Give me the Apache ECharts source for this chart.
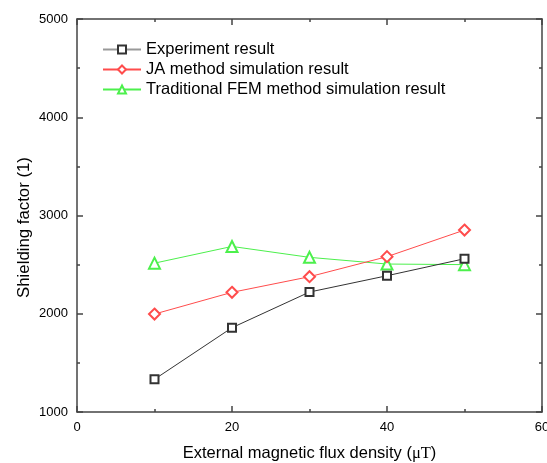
<!DOCTYPE html>
<html><head><meta charset="utf-8">
<script src="https://cdn.jsdelivr.net/npm/echarts@6/dist/echarts.min.js"></script>
<style>html,body{margin:0;padding:0;background:#fff}#c{width:547px;height:463px}</style>
</head><body><div id="c"></div>
<script>
const xValues = [10, 20, 30, 40, 50];
const experiment = [1333, 1858, 2221, 2387, 2560];
const jaMethod = [1997, 2218, 2377, 2581, 2852];
const femMethod = [2515, 2685, 2574, 2506, 2500];
const seriesNames = ['Experiment result', 'JA method simulation result', 'Traditional FEM method simulation result'];

const pairs = arr => xValues.map((x, i) => [x, arr[i]]);
const font = 'Liberation Sans, Arial';
const axisLine = () => ({ show: true, onZero: false, lineStyle: { color: '#444', width: 1.5 } });
const tick = () => ({ show: true, inside: true, length: 6, lineStyle: { color: '#444', width: 1.5 } });
const minor = () => ({ show: true, splitNumber: 2, length: 3, lineStyle: { color: '#444', width: 1.5 } });
const chart = echarts.init(document.getElementById('c'));
chart.setOption({
  animation: false,
  backgroundColor: '#fff',
  grid: { left: 77, right: 5, top: 19, bottom: 51, containLabel: false, outerBoundsMode: 'none' },
  legend: {
    orient: 'vertical', left: 97, top: 36, itemGap: 3, itemWidth: 38, itemHeight: 10,
    textStyle: { fontFamily: font, fontSize: 16.5, color: '#000' },
    data: [
      { name: seriesNames[0], lineStyle: { color: '#999' } },
      { name: seriesNames[1] },
      { name: seriesNames[2] }
    ]
  },
  xAxis: [{
    type: 'value', min: 0, max: 60, interval: 20, position: 'bottom',
    axisLine: axisLine(), axisTick: tick(), minorTick: minor(), splitLine: { show: false },
    axisLabel: { color: '#000', fontFamily: font, fontSize: 13, margin: 9, formatter: v => String(v) },
    name: 'External magnetic flux density ({s|μT})', nameLocation: 'middle', nameGap: 33,
    nameTextStyle: { color: '#000', fontFamily: font, fontSize: 16.5,
      rich: { s: { fontFamily: 'Liberation Serif, Times New Roman', fontSize: 16.5, color: '#000' } } }
  }, {
    type: 'value', min: 0, max: 60, interval: 20, position: 'top',
    axisLine: axisLine(), axisTick: tick(), minorTick: minor(), splitLine: { show: false }, axisLabel: { show: false }
  }],
  yAxis: [{
    type: 'value', min: 1000, max: 5000, interval: 1000, position: 'left',
    axisLine: axisLine(), axisTick: tick(), minorTick: minor(), splitLine: { show: false },
    axisLabel: { color: '#000', fontFamily: font, fontSize: 13, margin: 9, formatter: v => String(v) },
    name: 'Shielding factor (1)', nameLocation: 'middle', nameGap: 44, nameMoveOverlap: false,
    nameTextStyle: { color: '#000', fontFamily: font, fontSize: 16.8, padding: [0, 24, 0, 0] }
  }, {
    type: 'value', min: 1000, max: 5000, interval: 1000, position: 'right',
    axisLine: axisLine(), axisTick: tick(), minorTick: minor(), splitLine: { show: false }, axisLabel: { show: false }
  }],
  series: [
    { name: seriesNames[2], type: 'line', data: pairs(femMethod), symbol: 'emptyTriangle', symbolSize: 11,
      lineStyle: { color: '#4cf04c', width: 1 }, itemStyle: { color: '#4cf04c', borderWidth: 0.8 } },
    { name: seriesNames[1], type: 'line', data: pairs(jaMethod), symbol: 'emptyDiamond', symbolSize: 11,
      lineStyle: { color: '#ff4c4c', width: 1 }, itemStyle: { color: '#ff4c4c', borderWidth: 0.8 } },
    { name: seriesNames[0], type: 'line', data: pairs(experiment), symbol: 'emptyRect', symbolSize: 8,
      lineStyle: { color: '#333', width: 1 }, itemStyle: { color: '#333', borderWidth: 0.8 } }
  ]
});
</script></body></html>
